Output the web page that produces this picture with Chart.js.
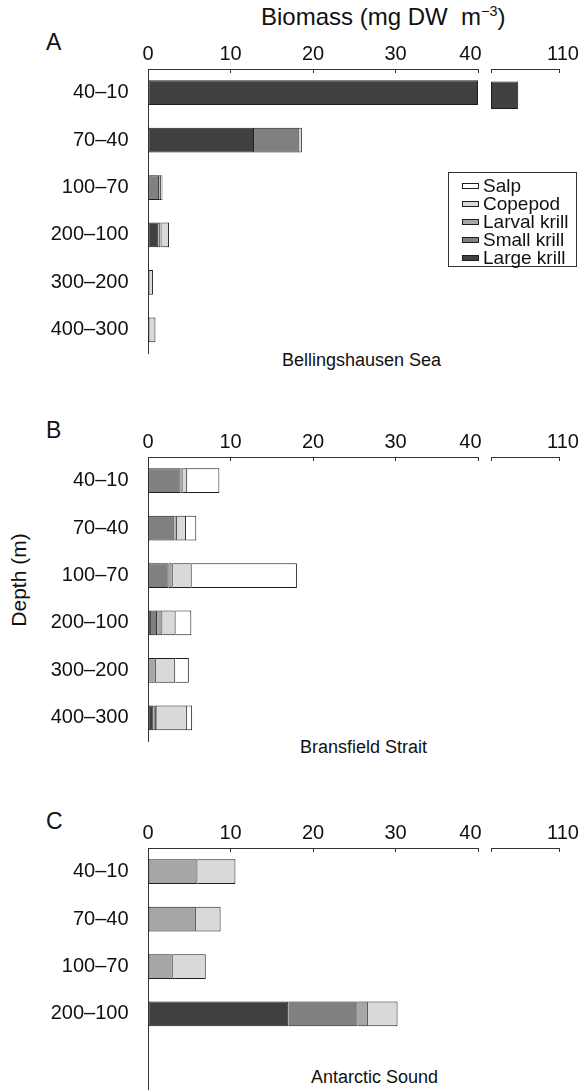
<!DOCTYPE html>
<html>
<head>
<meta charset="utf-8">
<script src="https://cdn.jsdelivr.net/npm/chart.js@4.4.1/dist/chart.umd.min.js"></script>
<style>
  html, body { margin: 0; padding: 0; background: #fff; }
  body {
    width: 585px; height: 1090px; position: relative; overflow: hidden;
    font-family: "Liberation Sans", Arial, sans-serif; color: #111;
  }
  canvas { position: absolute; }
  .txt { position: absolute; white-space: nowrap; line-height: 1; }
  .txt sup { font-size: 0.6em; vertical-align: 0.6em; line-height: 0; }
  .panel-letter { font-size: 23px; }
  .region { font-size: 18px; }
  #depthTitle {
    font-size: 21px; left: 18px; top: 580px;
    transform: translate(-50%, -50%) rotate(-90deg);
  }
  #legend {
    position: absolute; left: 448px; top: 172px; width: 129px; height: 95px;
    box-sizing: border-box; border: 1px solid #333; padding-top: 4px;
  }
  #legend .row { display: flex; align-items: center; height: 18px; }
  #legend .sw {
    width: 17px; height: 6px; box-sizing: border-box; border: 1px solid #222;
    margin-left: 13px; margin-right: 4px;
  }
  #legend .lb { font-size: 19px; line-height: 18px; }
</style>
</head>
<body>

<div class="txt" style="left:261px; top:5px; font-size:24px;">Biomass (mg DW&nbsp; m<sup>−3</sup>)</div>
<div class="txt" id="depthTitle">Depth (m)</div>

<div class="txt panel-letter" style="left:46px; top:30.5px;">A</div>
<div class="txt panel-letter" style="left:46px; top:418.5px;">B</div>
<div class="txt panel-letter" style="left:46px; top:809.5px;">C</div>

<div class="txt region" style="left:282px; top:351px;">Bellingshausen Sea</div>
<div class="txt region" style="left:300px; top:738px;">Bransfield Strait</div>
<div class="txt region" style="left:311px; top:1068px;">Antarctic Sound</div>

<canvas id="aLow"></canvas><canvas id="aHigh"></canvas>
<canvas id="bLow"></canvas><canvas id="bHigh"></canvas>
<canvas id="cLow"></canvas><canvas id="cHigh"></canvas>

<div id="legend"></div>

<script>
// Depth strata (m)
const depthsAB = ['40–10', '70–40', '100–70', '200–100', '300–200', '400–300'];
const depthsC  = ['40–10', '70–40', '100–70', '200–100'];

// Stacking order, left to right
const seriesNames = ['Large krill', 'Small krill', 'Larval krill', 'Copepod', 'Salp'];
const seriesFills = ['#404040', '#808080', '#a6a6a6', '#d9d9d9', '#ffffff'];

// Biomass, mg DW m^-3 — Bellingshausen Sea
const bellLargeKrill  = [104, 12.85, 0,    1.25, 0,   0];
const bellSmallKrill  = [0,   5.5,   1.35, 0.25, 0,   0];
const bellLarvalKrill = [0,   0,     0.25, 0.15, 0,   0];
const bellCopepod     = [0,   0.3,   0.15, 0.9,  0.6, 0.9];
const bellSalp        = [0,   0,     0,    0,    0,   0];

// Bransfield Strait
const bransLargeKrill  = [0,    0,    0,     0.35, 0.1,  0.65];
const bransSmallKrill  = [3.95, 3.2,  2.5,   0.75, 0,    0.3];
const bransLarvalKrill = [0.25, 0.3,  0.5,   0.65, 0.85, 0.15];
const bransCopepod     = [0.55, 1.1,  2.3,   1.6,  2.35, 3.65];
const bransSalp        = [3.9,  1.25, 12.75, 1.9,  1.65, 0.6];

// Antarctic Sound
const antLargeKrill  = [0,   0,   0,   17.0];
const antSmallKrill  = [0,   0,   0,   8.4];
const antLarvalKrill = [6.0, 5.8, 3.0, 1.25];
const antCopepod     = [4.6, 3.0, 4.0, 3.6];
const antSalp        = [0,   0,   0,   0];

// Broken biomass axis: 0–40, then 100–110
const xTicksLow  = [0, 10, 20, 30, 40];
const xTicksHigh = [110];
const breakLow  = 40;
const breakHigh = 100;
const axisMax   = 110;

const FONT = '"Liberation Sans", Arial, sans-serif';
const INK = '#111';
const AXIS = '#333';
const EDGE = '#1e1e1e';

Chart.defaults.font.family = FONT;
Chart.defaults.color = INK;

// Cumulative [start, end] of each stacked component, clipped to one axis segment
function segmentRanges(seriesList, lo, hi) {
  const base = new Array(seriesList[0].length).fill(0);
  return seriesList.map(vals => vals.map((v, i) => {
    const start = base[i];
    const end = start + v;
    base[i] = end;
    const a = Math.max(start, lo);
    const b = Math.min(end, hi);
    return v > 0 && b > a ? [a, b] : null;
  }));
}

function placeCanvas(id, left, top, w, h) {
  const c = document.getElementById(id);
  c.width = w; c.height = h;
  c.style.left = left + 'px'; c.style.top = top + 'px';
  c.style.width = w + 'px'; c.style.height = h + 'px';
  return c;
}

// Tick label text; the label at the break is pulled left, clear of the break gap
function tickText(v) {
  return v === breakLow ? String(v) + '\u2007\u2009' : String(v);
}

const AXIS_BAND = 40;   // room above the plot for tick labels
const PLOT_H = 316;     // six depth strata

function buildChart(id, left, top, width, labels, seriesList, seg) {
  const canvas = placeCanvas(id, left, top, width, AXIS_BAND + PLOT_H);
  const ranges = segmentRanges(seriesList, seg.lo, seg.hi);
  return new Chart(canvas, {
    type: 'bar',
    data: {
      labels: labels,
      datasets: seriesNames.map((name, k) => ({
        label: name,
        data: ranges[k],
        backgroundColor: seriesFills[k],
        borderColor: EDGE,
        borderWidth: 1,
        borderSkipped: ctx => (ctx.raw && ctx.raw[0] > seg.lo) ? 'left' : false,
        grouped: false,
        barPercentage: 0.523,
        categoryPercentage: 1
      }))
    },
    options: {
      indexAxis: 'y',
      responsive: false,
      animation: false,
      devicePixelRatio: 1,
      layout: { autoPadding: false, padding: seg.padding },
      plugins: { legend: { display: false }, tooltip: { enabled: false } },
      scales: {
        x: {
          type: 'linear',
          position: 'top',
          min: seg.lo,
          max: seg.hi,
          afterFit: s => { s.height = AXIS_BAND; },
          afterBuildTicks: s => { s.ticks = seg.tickMarks.map(v => ({ value: v })); },
          ticks: {
            autoSkip: false,
            maxRotation: 0,
            padding: 7,
            labelOffset: seg.labelOffset,
            font: { size: 20 },
            color: INK,
            callback: v => seg.tickLabels.includes(v) ? tickText(v) : ''
          },
          grid: { drawOnChartArea: false, drawTicks: true, tickLength: -4, color: AXIS, lineWidth: 1 },
          border: { display: true, color: AXIS, width: 1 }
        },
        y: {
          type: 'category',
          display: seg.showDepth,
          afterFit: s => { s.width = seg.showDepth ? 148 : 0; },
          ticks: { padding: 19.5, font: { size: 20 }, color: INK },
          grid: { display: false, drawTicks: false },
          border: { display: seg.showDepth, color: AXIS, width: 1 }
        }
      }
    }
  });
}

// first axis segment spans x = 148..478, the second x = 489..559
const lowSeg = {
  lo: 0, hi: breakLow, tickMarks: xTicksLow, tickLabels: xTicksLow,
  labelOffset: 0, showDepth: true, padding: { left: 0, right: 40, top: 0, bottom: 0 }
};
const highSeg = {
  lo: breakHigh, hi: axisMax, tickMarks: [breakHigh, ...xTicksHigh], tickLabels: xTicksHigh,
  labelOffset: 4, showDepth: false, padding: { left: 5, right: 26, top: 0, bottom: 0 }
};

const bellSeries  = [bellLargeKrill, bellSmallKrill, bellLarvalKrill, bellCopepod, bellSalp];
const bransSeries = [bransLargeKrill, bransSmallKrill, bransLarvalKrill, bransCopepod, bransSalp];
const antSeries   = [antLargeKrill, antSmallKrill, antLarvalKrill, antCopepod, antSalp];
// the Antarctic Sound panel keeps the same row height; its axis runs on below the last stratum
const depthsCRows = [...depthsC, '', ''];

const panels = [
  { low: 'aLow', high: 'aHigh', axisY: 69,  labels: depthsAB,    series: bellSeries },
  { low: 'bLow', high: 'bHigh', axisY: 457, labels: depthsAB,    series: bransSeries },
  { low: 'cLow', high: 'cHigh', axisY: 848, labels: depthsCRows, series: antSeries }
];

const charts = panels.map(p => {
  const top = p.axisY - AXIS_BAND;
  const low = buildChart(p.low, 0, top, 518, p.labels, p.series, lowSeg);
  buildChart(p.high, 484, top, 101, p.labels, p.series, highSeg);
  return low;
});

// Legend built from the first panel's datasets, top entry = last stacked component
(function renderLegend(chart) {
  const items = Chart.defaults.plugins.legend.labels.generateLabels(chart).reverse();
  const box = document.getElementById('legend');
  items.forEach(item => {
    const row = document.createElement('div');
    row.className = 'row';
    const sw = document.createElement('span');
    sw.className = 'sw';
    sw.style.background = item.fillStyle;
    sw.style.borderColor = item.strokeStyle;
    const lb = document.createElement('span');
    lb.className = 'lb';
    lb.textContent = item.text;
    row.appendChild(sw);
    row.appendChild(lb);
    box.appendChild(row);
  });
})(charts[0]);
</script>
</body>
</html>
